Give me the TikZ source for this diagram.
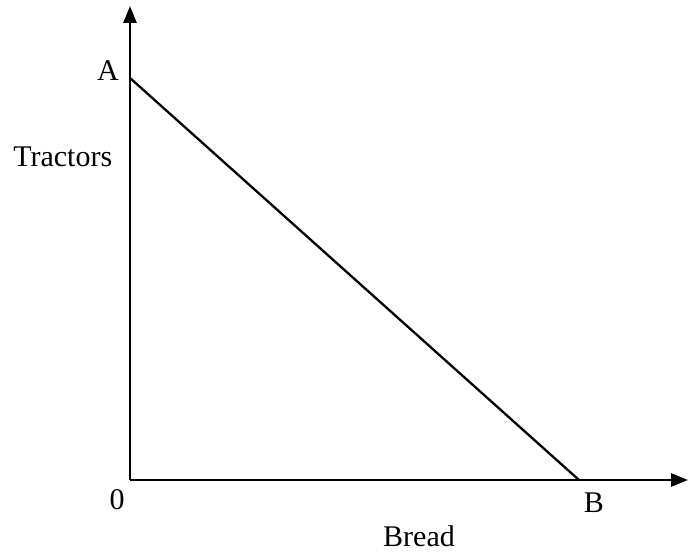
\documentclass[tikz,border=0pt]{standalone}
\usepackage{fontspec}
\setmainfont{Liberation Serif}
\usetikzlibrary{arrows.meta}
\begin{document}
\begin{tikzpicture}[x=1pt, y=-1pt, line width=2.6pt, >={Triangle[length=17pt, width=13pt]},
		lbl/.style={anchor=base, inner sep=0pt, font=\fontsize{30}{36}\selectfont}]
				\useasboundingbox (0, 0) rectangle (689, 553);
				\coordinate (O) at (130, 480);
				\coordinate (ytop) at (130, 6);
				\coordinate (xend) at (688, 480);
				\coordinate (A) at (130, 78);
				\coordinate (B) at (579, 480);
				\draw[->] (O) -- (ytop);
				\draw[->] (O) -- (xend);
				\draw[line width=2.3pt] (A) -- (B);
				\node[lbl] (lA) at (108, 81) {A};
				\node[lbl, anchor=base west] (lTractors) at (12, 167) {Tractors};
				\node[lbl] (lO) at (117, 510) {0};
				\node[lbl] (lB) at (594, 513) {B};
				\node[lbl] (lBread) at (419, 547) {Bread};
			\end{tikzpicture}
\end{document}
